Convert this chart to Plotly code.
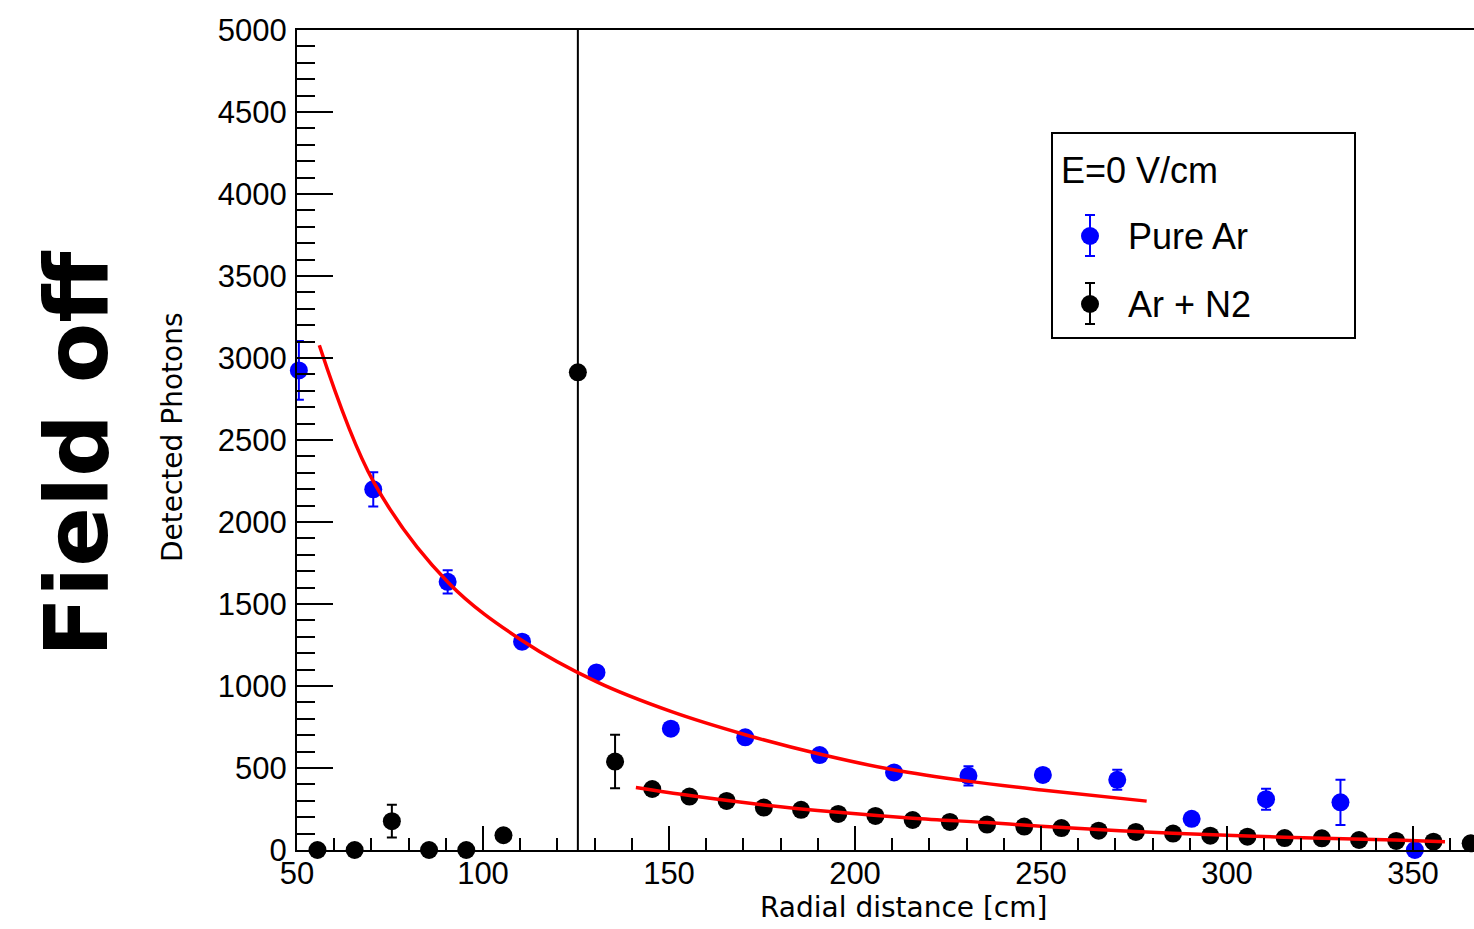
import plotly.graph_objects as go

# ---- measured data -------------------------------------------------------
# Pure argon
ar_x = [50.5, 70.5, 90.5, 110.5, 130.5, 150.5, 170.5, 190.5, 210.5, 230.5,
        250.5, 270.5, 290.5, 310.5, 330.5, 350.5]
ar_y = [2924, 2199, 1635, 1270, 1083, 740, 687, 579, 473, 452,
        458, 428, 190, 310, 291, 0]
ar_err = [179, 104, 71, 40, 35, 30, 30, 30, 30, 58,
          35, 61, 30, 64, 138, 0]

# Argon doped with nitrogen
n2_x = [55.5, 65.5, 75.5, 85.5, 95.5, 105.5, 125.5, 135.5, 145.5, 155.5,
        165.5, 175.5, 185.5, 195.5, 205.5, 215.5, 225.5, 235.5, 245.5, 255.5,
        265.5, 275.5, 285.5, 295.5, 305.5, 315.5, 325.5, 335.5, 345.5, 355.5,
        365.5]
n2_y = [0, 0, 176, 0, 0, 90, 2913, 539, 372, 326,
        299, 259, 245, 220, 208, 183, 171, 155, 143, 134,
        118, 110, 100, 87, 81, 73, 71, 61, 55, 51,
        41]
n2_err = [0, 0, 100, 0, 0, 20, 3000, 163, 20, 18,
          16, 15, 14, 13, 12, 11, 10, 10, 9, 9,
          8, 8, 7, 7, 6, 6, 6, 5, 5, 5,
          5]

# Fitted light-yield curves (sampled)
fit_ar_x = [56, 70.7, 90.7, 110.6, 130.6, 150.5, 170.5, 190.4, 210.3,
            230.3, 250.2, 278.4]
fit_ar_y = [3078, 2240, 1630, 1276, 1025, 845, 703, 585, 489,
            420, 366, 298]
fit_n2_x = [141.1, 155.6, 175.5, 195.5, 215.5, 235.5, 250.0, 285.4, 315.3, 345.2, 358.6]
fit_n2_y = [381, 332, 275, 230, 194, 167, 145, 102, 78, 61, 51]

x_ticks = [50, 100, 150, 200, 250, 300, 350]
y_ticks = [0, 500, 1000, 1500, 2000, 2500, 3000, 3500, 4000, 4500, 5000]

# ---- canvas geometry ----------------------------------------------------
W, H = 1474, 929
ML, MR, MT, MB = 297, 0, 30, 79
PW, PH = W - ML - MR, H - MT - MB
X_PER_PX = 3.72  # pixels per cm on the radial axis


def px(x):
    return (x - ML) / PW


def py(y):
    return (H - MB - y) / PH


BLUE = "#0000FF"
BLACK = "#000000"
RED = "#FF0000"
SANS = "Liberation Sans, Arial, Helvetica, sans-serif"
WIDE = "DejaVu Sans, Verdana, sans-serif"

fig = go.Figure()

# error bars (clipped to the frame)
for xs, ys, es, col in [(ar_x, ar_y, ar_err, BLUE), (n2_x, n2_y, n2_err, BLACK)]:
    fig.add_trace(go.Scatter(
        x=xs, y=ys, mode="markers",
        marker=dict(size=1, color="rgba(0,0,0,0)"),
        error_y=dict(type="data", array=es, visible=True, color=col,
                     thickness=2, width=5),
        cliponaxis=True, showlegend=False, hoverinfo="skip"))

# markers (allowed to overlap the axis line)
for xs, ys, col in [(ar_x, ar_y, BLUE), (n2_x, n2_y, BLACK)]:
    fig.add_trace(go.Scatter(
        x=xs, y=ys, mode="markers",
        marker=dict(size=18, color=col, line=dict(width=0)),
        cliponaxis=False, showlegend=False))

# fits
for xs, ys in [(fit_ar_x, fit_ar_y), (fit_n2_x, fit_n2_y)]:
    fig.add_trace(go.Scatter(
        x=xs, y=ys, mode="lines",
        line=dict(color=RED, width=3.5, shape="spline", smoothing=1.0),
        cliponaxis=True, showlegend=False))

axis_common = dict(
    showline=True, linecolor="black", linewidth=2,
    ticks="inside", tickcolor="black", tickwidth=2,
    showgrid=False, zeroline=False,
    tickfont=dict(family=SANS, size=31, color="black"),
)

fig.update_xaxes(
    range=[50, 50 + PW / X_PER_PX],
    tickvals=x_ticks, ticktext=[str(v) for v in x_ticks],
    ticklen=24, mirror=True, ticklabelstandoff=-5,
    minor=dict(ticks="inside", ticklen=12, dtick=10, tick0=50,
               tickcolor="black", tickwidth=2, showgrid=False),
    **axis_common)
fig.update_yaxes(
    range=[0, 5000],
    tickvals=y_ticks, ticktext=[str(v) for v in y_ticks],
    ticklen=36, mirror=False, ticklabelstandoff=2,
    minor=dict(ticks="inside", ticklen=18, dtick=100, tick0=0,
               tickcolor="black", tickwidth=2, showgrid=False),
    **axis_common)

annotations = [
    dict(text="<b>Field off</b>", x=px(76), y=py(454), textangle=-90,
         font=dict(family=WIDE, size=88, color="black")),
    dict(text="Detected Photons", x=px(172), y=py(438), textangle=-90,
         font=dict(family=WIDE, size=28, color="black")),
    dict(text="Radial distance [cm]", x=px(1049), y=py(907), xanchor="right",
         font=dict(family=WIDE, size=28, color="black")),
    dict(text="E=0 V/cm", x=px(1059), y=py(170), xanchor="left",
         font=dict(family=SANS, size=36, color="black")),
    dict(text="Pure Ar", x=px(1126), y=py(236), xanchor="left",
         font=dict(family=SANS, size=36, color="black")),
    dict(text="Ar + N2", x=px(1126), y=py(305), xanchor="left",
         font=dict(family=SANS, size=36, color="black")),
]
for a in annotations:
    a.setdefault("xanchor", "center")
    a.update(xref="paper", yref="paper", yanchor="middle", showarrow=False)

shapes = [
    dict(type="rect", x0=px(1052), x1=px(1355), y0=py(133), y1=py(338),
         line=dict(color="black", width=2), fillcolor="white", layer="below"),
]
# legend glyphs: marker with error bar
for cy, col, top, bot in [(236, BLUE, 215, 256), (304, BLACK, 283, 324)]:
    cx = 1090
    shapes += [
        dict(type="line", x0=px(cx), x1=px(cx), y0=py(top), y1=py(bot),
             line=dict(color=col, width=2)),
        dict(type="line", x0=px(cx - 5), x1=px(cx + 5), y0=py(top), y1=py(top),
             line=dict(color=col, width=2)),
        dict(type="line", x0=px(cx - 5), x1=px(cx + 5), y0=py(bot), y1=py(bot),
             line=dict(color=col, width=2)),
        dict(type="circle", x0=px(cx - 9), x1=px(cx + 9), y0=py(cy + 9), y1=py(cy - 9),
             line=dict(width=0), fillcolor=col),
    ]
for s in shapes:
    s.update(xref="paper", yref="paper")

fig.update_layout(
    width=W, height=H,
    margin=dict(l=ML, r=MR, t=MT, b=MB, pad=0),
    paper_bgcolor="white", plot_bgcolor="white",
    annotations=annotations, shapes=shapes,
    showlegend=False,
)

fig.write_html("out.html")
